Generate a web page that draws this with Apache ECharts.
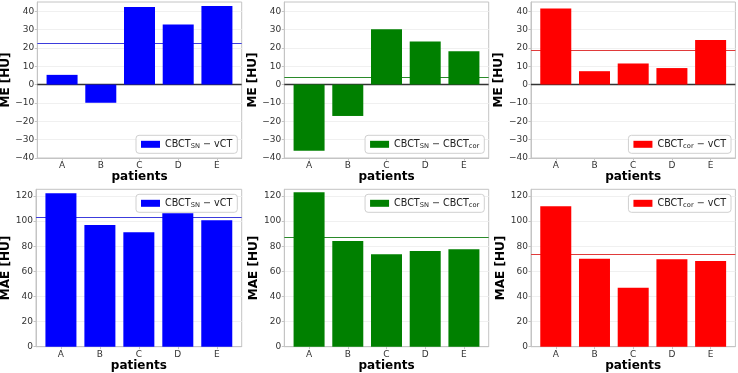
<!DOCTYPE html>
<html>
<head>
<meta charset="utf-8">
<script src="https://cdn.jsdelivr.net/npm/echarts@6/dist/echarts.min.js"></script>
<style>
  html, body { margin: 0; padding: 0; background: #fff; }
  #chart { width: 738px; height: 373px; }
</style>
</head>
<body>
<div id="chart"></div>
<script>
const patients = ['A', 'B', 'C', 'D', 'E'];
// mean error [HU]
const meSnVct = [5.3, -9.9, 42.3, 32.7, 42.8];
const meSnCor = [-36.0, -17.1, 30.2, 23.5, 18.2];
const meCorVct = [41.4, 7.3, 11.5, 9.0, 24.3];
// mean absolute error [HU]
const maeSnVct = [122.1, 96.9, 91.1, 106.2, 100.6];
const maeSnCor = [122.9, 84.2, 73.5, 76.2, 77.5];
const maeCorVct = [111.8, 70.1, 47.0, 69.6, 68.2];
// y tick labels
const meTicks = [-40, -30, -20, -10, 0, 10, 20, 30, 40];
const maeTicks = [0, 20, 40, 60, 80, 100, 120];

const labelSnVct = '{a|CBCT}{s|SN}{a| − vCT}';
const labelSnCor = '{a|CBCT}{s|SN}{a| − CBCT}{s|cor}';
const labelCorVct = '{a|CBCT}{s|cor}{a| − vCT}';

const FONT = 'DejaVu Sans';
const mean = arr => arr.reduce((s, v) => s + v, 0) / arr.length;

// layout of the 2x3 panels
const colLeft = [37.3, 284.3, 531];
const panelW = 204.4;
const rowTop = [2, 189.3];
const rowH = [156, 157.4];

const panels = [
  { row: 0, col: 0, vals: meSnVct, color: '#0000ff', line: '#3c3cdc', label: labelSnVct, kind: 'me' },
  { row: 0, col: 1, vals: meSnCor, color: '#008000', line: '#2a8a2a', label: labelSnCor, kind: 'me' },
  { row: 0, col: 2, vals: meCorVct, color: '#ff0000', line: '#e03a3a', label: labelCorVct, kind: 'me' },
  { row: 1, col: 0, vals: maeSnVct, color: '#0000ff', line: '#3c3cdc', label: labelSnVct, kind: 'mae' },
  { row: 1, col: 1, vals: maeSnCor, color: '#008000', line: '#2a8a2a', label: labelSnCor, kind: 'mae' },
  { row: 1, col: 2, vals: maeCorVct, color: '#ff0000', line: '#e03a3a', label: labelCorVct, kind: 'mae' }
];

const grid = [], xAxis = [], yAxis = [], series = [], legend = [];

panels.forEach((p, i) => {
  const left = p.row === 1 && p.col === 0 ? 36 : colLeft[p.col];
  const right = colLeft[p.col] + panelW;
  grid.push({
    left: left,
    top: rowTop[p.row],
    width: right - left,
    height: rowH[p.row],
    show: true,
    backgroundColor: '#fff',
    borderColor: '#c4c4c4',
    borderWidth: 1,
    containLabel: false,
    outerBoundsMode: 'none'
  });
  xAxis.push({
    type: 'value',
    gridIndex: i,
    min: -0.64,
    max: 4.64,
    name: 'patients',
    nameLocation: 'middle',
    nameGap: 9,
    nameTextStyle: { fontFamily: FONT, fontSize: 12, fontWeight: 'bold', color: '#000', verticalAlign: 'top' },
    axisLine: { show: true, onZero: false, lineStyle: { color: '#c4c4c4', width: 1 } },
    axisTick: { show: true, length: 2.5, customValues: [0, 1, 2, 3, 4], lineStyle: { color: '#c4c4c4' } },
    axisLabel: {
      customValues: [0, 1, 2, 3, 4],
      formatter: v => patients[v],
      fontFamily: FONT, fontSize: 9, color: '#333', margin: 3
    },
    splitLine: { show: false }
  });
  const ticks = p.kind === 'me' ? meTicks : maeTicks;
  yAxis.push({
    type: 'value',
    gridIndex: i,
    min: p.kind === 'me' ? -40 : 0,
    max: p.kind === 'me' ? 45 : 125.3,
    name: p.kind === 'me' ? 'ME [HU]' : 'MAE [HU]',
    nameLocation: 'middle',
    nameGap: p.kind === 'me' ? 22 : 21,
    nameTextStyle: { fontFamily: FONT, fontSize: 12, fontWeight: 'bold', color: '#000' },
    axisLine: { show: true, onZero: false, lineStyle: { color: '#c4c4c4', width: 1 } },
    axisTick: { show: true, length: 2.5, customValues: ticks, lineStyle: { color: '#c4c4c4' } },
    axisLabel: {
      customValues: ticks,
      formatter: v => String(v).replace('-', '\u2212'),
      fontFamily: FONT, fontSize: 9, color: '#333', margin: 3
    },
    splitLine: { show: true, customValues: ticks, lineStyle: { color: '#f0f0f0', width: 1 } }
  });
  const name = 'panel' + i;
  // mean line
  series.push({
    name: name + '-mean',
    type: 'line',
    xAxisIndex: i,
    yAxisIndex: i,
    z: 1,
    data: [],
    markLine: {
      silent: true,
      symbol: 'none',
      label: { show: false },
      lineStyle: { color: p.line, width: 1.2, type: 'solid' },
      emphasis: { disabled: true },
      data: [{ yAxis: mean(p.vals) }]
    }
  });
  const bar = {
    name: name,
    type: 'bar',
    xAxisIndex: i,
    yAxisIndex: i,
    barWidth: 31,
    z: 10,
    itemStyle: { color: p.color },
    data: patients.map((c, k) => [k, p.vals[k]])
  };
  if (p.kind === 'me') {
    bar.markLine = {
      silent: true,
      symbol: 'none',
      label: { show: false },
      lineStyle: { color: '#333333', width: 1.3, type: 'solid' },
      emphasis: { disabled: true },
      data: [{ yAxis: 0 }]
    };
  }
  series.push(bar);
  const lg = {
    data: [name],
    selectedMode: false,
    z: 20,
    right: 738 - (colLeft[p.col] + panelW) + 4.4,
    icon: 'rect',
    itemWidth: 19,
    itemHeight: 7,
    padding: [4, 5, 4, 5],
    backgroundColor: 'rgba(255,255,255,0.85)',
    borderColor: '#d0d0d0',
    borderWidth: 1,
    borderRadius: 3,
    formatter: () => p.label,
    textStyle: {
      lineHeight: 10,
      rich: {
        a: { fontFamily: FONT, fontSize: 9.6, color: '#222', lineHeight: 10 },
        s: { fontFamily: FONT, fontSize: 6.7, color: '#222', lineHeight: 10, verticalAlign: 'bottom', padding: [3, 0, 0, 0] }
      }
    }
  };
  if (p.kind === 'me') lg.bottom = 373 - 153.3; else lg.top = 194.3;
  legend.push(lg);
});

const chart = echarts.init(document.getElementById('chart'));
chart.setOption({
  animation: false,
  backgroundColor: '#fff',
  grid: grid,
  xAxis: xAxis,
  yAxis: yAxis,
  legend: legend,
  series: series
});
</script>
</body>
</html>
